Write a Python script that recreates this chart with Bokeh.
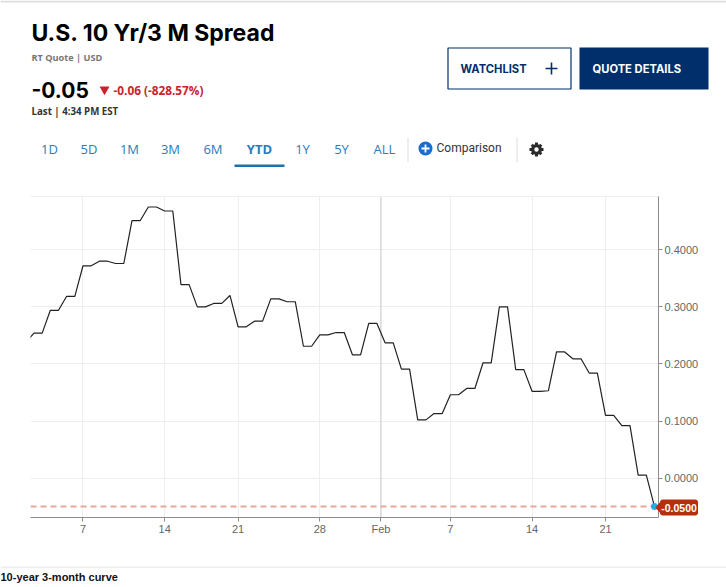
from bokeh.core.properties import value
from bokeh.embed import file_html
from bokeh.layouts import column
from bokeh.models import FixedTicker, NumeralTickFormatter, Range1d, Span
from bokeh.plotting import figure
from bokeh.resources import INLINE

# spread sampled twice per session, first sample sits just off the left edge
spread = [0.238,
          0.254, 0.254, 0.294, 0.294, 0.3185, 0.3185, 0.372, 0.372, 0.380, 0.380,
          0.376, 0.376, 0.451, 0.451, 0.475, 0.475, 0.468, 0.468, 0.339, 0.339,
          0.300, 0.300, 0.306, 0.306, 0.320, 0.265, 0.265, 0.275, 0.275, 0.314,
          0.314, 0.309, 0.309, 0.231, 0.231, 0.251, 0.251, 0.255, 0.255, 0.216,
          0.216, 0.271, 0.271, 0.237, 0.237, 0.191, 0.191, 0.102, 0.102, 0.113,
          0.113, 0.146, 0.146, 0.157, 0.157, 0.202, 0.202, 0.300, 0.300, 0.190,
          0.190, 0.152, 0.152, 0.153, 0.221, 0.221, 0.209, 0.209, 0.184, 0.184,
          0.110, 0.110, 0.092, 0.092, 0.005, 0.005, -0.05]
sample = list(range(-1, len(spread) - 1))

date_ticks = [6, 16, 25, 35, 42.5, 51, 61, 70]
date_labels = ["7", "14", "21", "28", "Feb", "7", "14", "21"]
month_tick = 42.5
y_ticks = [0.0, 0.1, 0.2, 0.3, 0.4]

tabs = ["1D", "5D", "1M", "3M", "6M", "YTD", "1Y", "5Y", "ALL"]
tab_x = [49, 88.5, 129, 170, 212.5, 259, 302, 341, 384]

NAVY = "#002f6c"
BLUE = "#2a7cb8"
GRID = "#eeeeee"
AXIS = "#8c8c8c"
RED = "#c8232c"
TAG = "#b72e0c"


def page_figure(height, top):
    # chrome around the chart is laid out in page pixels
    fig = figure(width=726, height=height, output_backend="svg", toolbar_location=None,
                 x_range=Range1d(0, 726), y_range=Range1d(top + height, top),
                 min_border=0, outline_line_color=None, x_axis_location=None,
                 y_axis_location=None, frame_align=False)
    fig.grid.visible = False
    return fig


def put(fig, x, y, s, size, color="#000000", font="Liberation Sans", style="normal", align="left"):
    fig.text([x], [y], text=[s], text_font=value(font), text_font_size=size, text_color=color,
             text_font_style=style, text_align=align, text_baseline="middle")


header = page_figure(190, 0)
header.quad(left=0, right=726, top=0, bottom=2, fill_color="#dddddd", line_color=None)
put(header, 31, 32.5, "U.S. 10 Yr/3 M Spread", "23px", font="Inter", style="bold")
put(header, 31, 57, "RT Quote | USD", "9.2px", "#777777", "Open Sans", "bold")
put(header, 31, 89, "-0.05", "21px", font="Inter", style="bold")
header.scatter([104], [89], marker="inverted_triangle", size=10, fill_color=RED, line_color=None)
put(header, 113, 89, "-0.06 (-828.57%)", "11.8px", RED, "Open Sans", "bold")
put(header, 31, 110.5, "Last | 4:34 PM EST", "9.7px", "#333333", "Open Sans", "bold")

# buttons
header.quad(left=447.5, right=570.5, top=47.5, bottom=88.5, fill_color="#ffffff", line_color=NAVY, line_width=1.2)
header.quad(left=579, right=708, top=47, bottom=89, fill_color=NAVY, line_color=None)
put(header, 460, 68, "WATCHLIST", "11.2px", NAVY, "Inter", "bold")
put(header, 592, 68, "QUOTE DETAILS", "11.2px", "#ffffff", "Inter", "bold")
header.segment(x0=[545, 551], y0=[68, 62], x1=[557, 551], y1=[68, 74], line_color=NAVY, line_width=1.6)

# range tabs
for name, x in zip(tabs, tab_x):
    put(header, x, 148.5, name, "13px", BLUE, "Open Sans", "bold" if name == "YTD" else "normal", "center")
header.quad(left=234, right=284, top=164, bottom=166.5, fill_color="#1a72b0", line_color=None)
header.segment(x0=[407.5, 516.5], y0=[137, 137], x1=[407.5, 516.5], y1=[162, 162], line_color="#dddddd", line_width=1)

header.scatter([425], [148], marker="circle", size=14, fill_color="#1a6dd0", line_color=None)
header.segment(x0=[421, 425], y0=[148, 144], x1=[429, 425], y1=[148, 152], line_color="#ffffff", line_width=1.8)
put(header, 436, 147.5, "Comparison", "12px", "#333333", "Roboto")

# gear
header.annulus(x=[536], y=[149], inner_radius=2.2, outer_radius=5.4, fill_color="#2b2b2b", line_color=None)
header.segment(x0=[536, 531.2, 529, 531.2], y0=[142, 144.2, 149, 153.8],
               x1=[536, 533, 532, 533], y1=[145, 146, 149, 152],
               line_color="#2b2b2b", line_width=3)
header.segment(x0=[536, 540.8, 543, 540.8], y0=[156, 153.8, 149, 144.2],
               x1=[536, 539, 540, 539], y1=[153, 152, 149, 146],
               line_color="#2b2b2b", line_width=3)

# chart: frame runs from 30 to 658 across and 196 to 517.5 down the page
chart = figure(width=726, height=376, output_backend="svg", toolbar_location=None,
               x_range=Range1d(-0.43, 76.49), y_range=Range1d(-0.0691, 0.4934),
               y_axis_location="right", min_border_left=30, min_border_right=68,
               min_border_top=6, min_border_bottom=49, outline_line_color=None, frame_align=False)
chart.xaxis.ticker = FixedTicker(ticks=date_ticks)
chart.xaxis.major_label_overrides = dict(zip(date_ticks, date_labels))
chart.yaxis.ticker = FixedTicker(ticks=y_ticks)
chart.yaxis.formatter = NumeralTickFormatter(format="0.0000")
for axis in (chart.xaxis[0], chart.yaxis[0]):
    axis.axis_line_color = AXIS
    axis.major_tick_line_color = AXIS
    axis.major_tick_in = 0
    axis.major_tick_out = 4
    axis.minor_tick_line_color = None
    axis.major_label_text_font = "Liberation Sans"
    axis.major_label_text_font_size = "11px"
    axis.major_label_text_color = "#666666"
chart.xaxis.major_label_standoff = 1
chart.yaxis.major_label_standoff = 2
chart.xgrid.ticker = FixedTicker(ticks=date_ticks)
chart.ygrid.ticker = FixedTicker(ticks=y_ticks)
chart.grid.grid_line_color = GRID
chart.add_layout(Span(location=month_tick, dimension="height", line_color="#cccccc", line_width=1,
                      level="underlay"))
chart.add_layout(Span(location=0.4934, dimension="width", line_color="#e2e2e2", line_width=1))
chart.add_layout(Span(location=spread[-1], dimension="width", line_color="#e8a899", line_width=2,
                      line_dash=[6, 4], level="underlay"))

chart.line(sample, spread, line_color="#222222", line_width=1.2)
chart.scatter(sample[-1:], spread[-1:], marker="circle", size=7, fill_color="#29abe2", line_color=None)

# last-value tag hangs over the axis, annotations get clipped to the frame so it sits on top
tag = figure(width=46, height=18, output_backend="svg", toolbar_location=None,
             x_range=Range1d(654, 700), y_range=Range1d(516, 498), min_border=0,
             outline_line_color=None, x_axis_location=None, y_axis_location=None,
             frame_align=False, background_fill_color=None, border_fill_color=None)
tag.grid.visible = False
tag.quad(left=660, right=697, top=499.5, bottom=514.5, fill_color=TAG, line_color=TAG, border_radius=2)
tag.patch([655.5, 661, 661], [507, 500.5, 513.5], fill_color=TAG, line_color=TAG)
put(tag, 678.5, 507, "%.4f" % spread[-1], "10.5px", "#ffffff", "Liberation Sans", "bold", "center")
tag.styles = {"position": "absolute", "left": "654px", "top": "498px"}

footer = page_figure(21, 566)
footer.segment(x0=[0], y0=[566.5], x1=[726], y1=[566.5], line_color="#dddddd", line_width=1)
put(footer, 0, 576, "10-year 3-month curve", "11px", "#111111", "Liberation Sans", "bold")

page = column(header, chart, footer, tag, spacing=0)
page.styles = {"position": "absolute", "left": "0", "top": "0"}

open("out.html", "w").write(file_html(page, INLINE))
